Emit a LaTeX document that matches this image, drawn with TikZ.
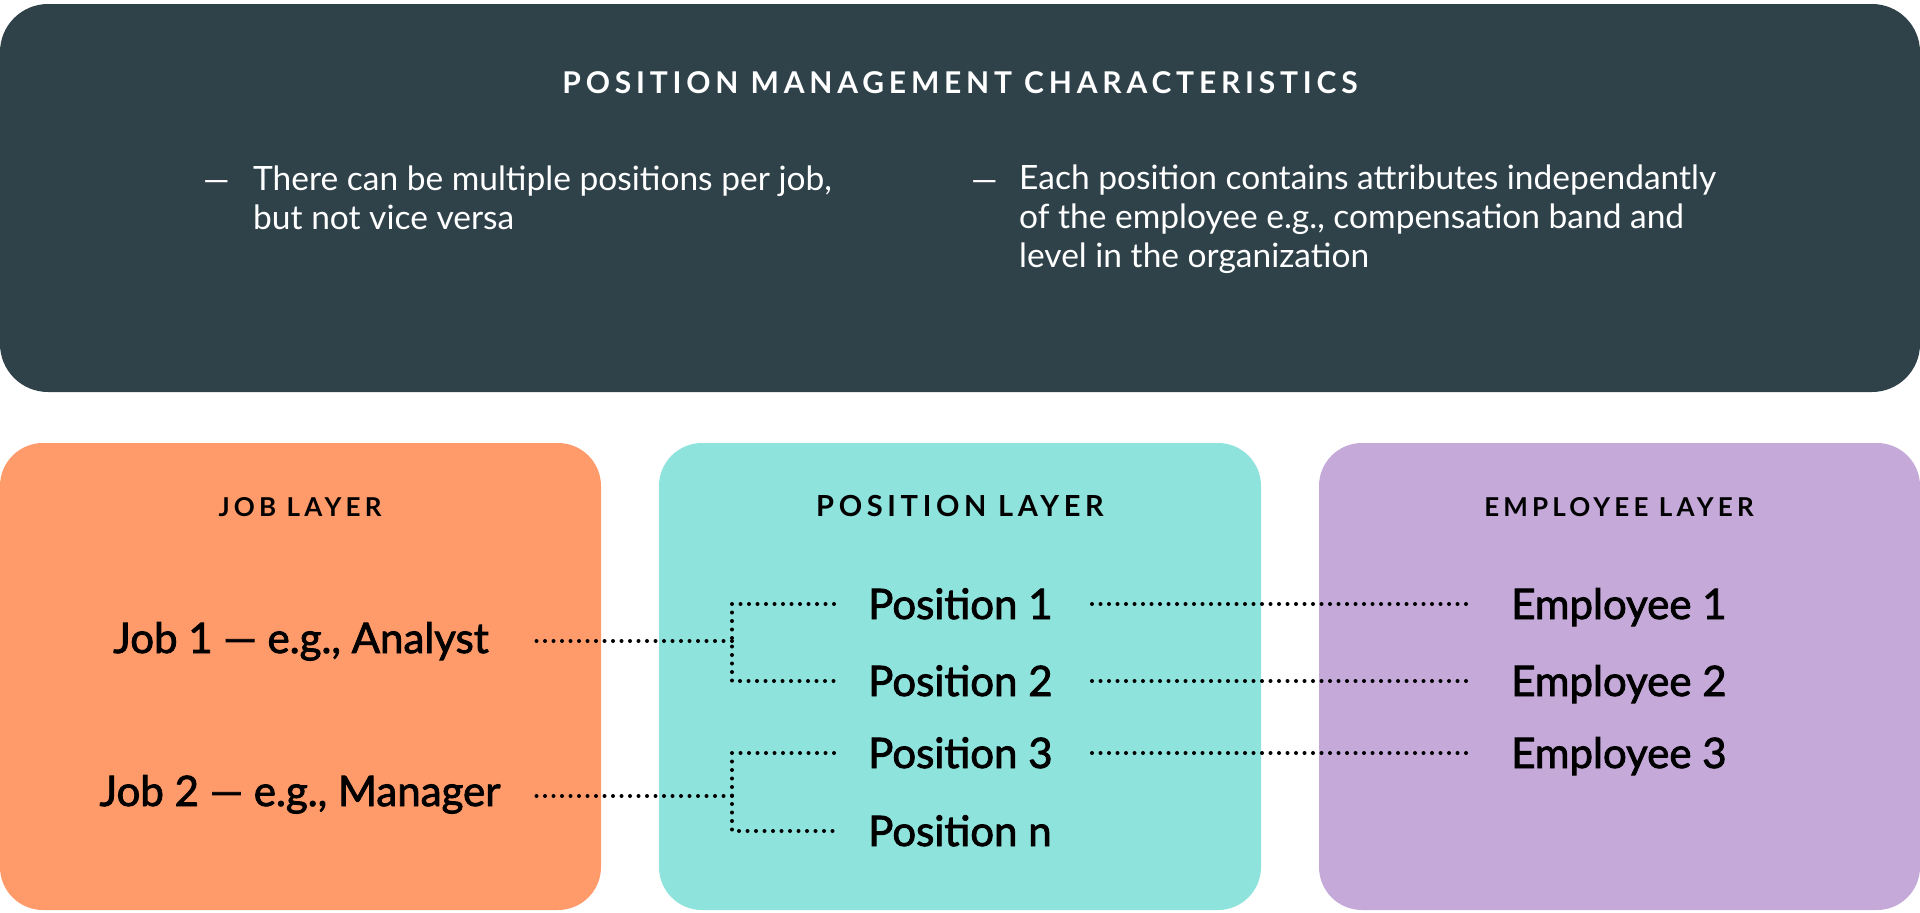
\documentclass[tikz,border=0pt]{standalone}
\usepackage{fontspec}
\setmainfont{Lato}
\definecolor{slate}{RGB}{47,66,74}
\definecolor{jobfill}{RGB}{255,155,106}
\definecolor{posfill}{RGB}{142,227,220}
\definecolor{empfill}{RGB}{196,169,217}

\begin{document}
\begin{tikzpicture}[x=1pt, y=-1pt,
    heading/.style={text=white, font=\fontsize{30}{36}\selectfont\bfseries\addfontfeatures{LetterSpace=16}},
    layerhead/.style={font=\fontsize{26}{30}\selectfont\bfseries\addfontfeatures{LetterSpace=16}},
    bullet/.style={text=white, anchor=base west, inner sep=0pt, align=left, font=\fontsize{33.5}{39}\selectfont},
    item/.style={inner sep=0pt, text height=30pt, text depth=0pt, font=\fontsize{42}{48}\selectfont\addfontfeatures{FakeBold=2}},
    dots/.style={line width=4pt, line cap=round, dash pattern=on 0pt off 8.5pt}]
    \useasboundingbox (0,0) rectangle (1920,913);

    \fill[slate, rounded corners=48pt] (0,4) rectangle (1920,392);
    \fill[jobfill, rounded corners=43pt] (0,443) rectangle (601,910);
    \fill[posfill, rounded corners=43pt] (659,443) rectangle (1261,910);
    \fill[empfill, rounded corners=43pt] (1319,443) rectangle (1920,910);

    \node[heading] (title) at (960,83) {POSITION MANAGEMENT CHARACTERISTICS};
    \node[bullet] (dash1) at (203,191) {—};
    \node[bullet] (note1) at (253,229) {There can be multiple positions per job,\\but not vice versa};
    \node[bullet] (dash2) at (971,191) {—};
    \node[bullet] (note2) at (1019,267) {Each position contains attributes independantly\\of the employee e.g., compensation band and\\level in the organization};

    \node[layerhead] (jobhead) at (300,507) {JOB LAYER};
    \node[layerhead, font=\fontsize{29}{34}\selectfont\bfseries\addfontfeatures{LetterSpace=16}] (poshead) at (960,506) {POSITION LAYER};
    \node[layerhead] (emphead) at (1619,507) {EMPLOYEE LAYER};

    \node[item] (job1) at (301,638) {Job 1 — e.g., Analyst};
    \node[item] (job2) at (300,791) {Job 2 — e.g., Manager};
    \node[item, anchor=west] (pos1) at (868,604) {Position 1};
    \node[item, anchor=west] (pos2) at (868,681) {Position 2};
    \node[item, anchor=west] (pos3) at (868,753) {Position 3};
    \node[item, anchor=west] (posn) at (868,831) {Position n};
    \node[item, anchor=west] (emp1) at (1511,604) {Employee 1};
    \node[item, anchor=west] (emp2) at (1511,681) {Employee 2};
    \node[item, anchor=west] (emp3) at (1511,753) {Employee 3};

    \coordinate (fork1) at (732,641);
    \coordinate (fork2) at (732,796);
    \coordinate (out) at (1092,0);

    \draw[dots, shorten >=40pt] (fork1) -- (fork1 -| job1.east);
    \draw[dots] ([xshift=-34pt]pos1.west) -| (fork1) |- ([xshift=-34pt]pos2.west);
    \draw[dots, shorten >=28pt] (fork2) -- (fork2 -| job2.east);
    \draw[dots] ([xshift=-34pt]pos3.west) -| (fork2) |- ([xshift=-34pt]posn.west);
    \draw[dots] (pos1 -| out) -- ([xshift=-38pt]emp1.west);
    \draw[dots] (pos2 -| out) -- ([xshift=-38pt]emp2.west);
    \draw[dots] (pos3 -| out) -- ([xshift=-38pt]emp3.west);
\end{tikzpicture}
\end{document}
